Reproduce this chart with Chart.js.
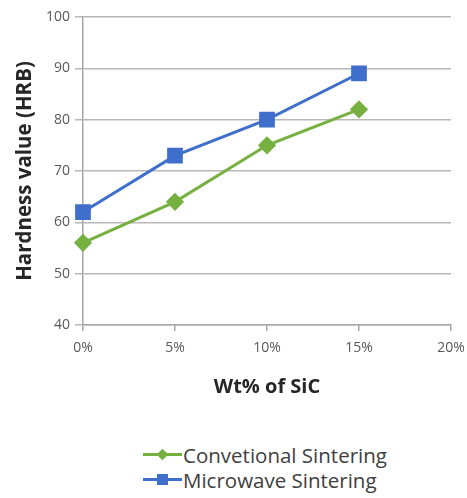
<!DOCTYPE html>
<html>
<head>
<meta charset="utf-8">
<script src="https://cdn.jsdelivr.net/npm/chart.js@4/dist/chart.umd.min.js"></script>
<style>
    body { margin: 0; background: #fff; font-family: "Open Sans", sans-serif; }
    #wrap { position: relative; width: 467px; height: 498px; }
    #legend { position: absolute; left: 143px; top: 442px; color: #404040; font-size: 20.5px; }
    .row { display: flex; align-items: center; height: 25px; }
    .key { position: relative; width: 39px; height: 3px; margin-right: 1px; }
    .key span { position: absolute; left: 14px; top: -4px; width: 11px; height: 11px; }
</style>
</head>
<body>
<div id="wrap">
    <canvas id="hardnessChart" width="467" height="410"></canvas>
    <div id="legend"></div>
</div>
<script>
/* ============================================================
   DATA
   ============================================================ */
const sicLabels = ["0%", "5%", "10%", "15%", "20%"];
const conventionalValues = [56, 64, 75, 82];
const microwaveValues = [62, 73, 80, 89];

const greenColor = "#76b041";
const blueColor = "#3f6fcb";

/* ============================================================
   CHART
   ============================================================ */
const ctx = document.getElementById("hardnessChart");

new Chart(ctx, {
    type: "line",
    data: {
        labels: sicLabels,
        datasets: [
            {
                label: "Convetional Sintering",
                data: conventionalValues,
                borderColor: greenColor,
                backgroundColor: greenColor,
                borderWidth: 3,
                pointStyle: "rectRot",
                pointRadius: 7,
                tension: 0
            },
            {
                label: "Microwave Sintering",
                data: microwaveValues,
                borderColor: blueColor,
                backgroundColor: blueColor,
                borderWidth: 3,
                pointStyle: "rect",
                pointRadius: 9,
                tension: 0
            }
        ]
    },
    options: {
        responsive: false,
        animation: false,
        layout: { padding: { top: 17, right: 16, left: 4, bottom: 0 } },
        plugins: {
            legend: { display: false },
            tooltip: { enabled: false }
        },
        scales: {
            x: {
                offset: false,
                grid: { drawOnChartArea: false, tickLength: 6, color: "#a6a6a6", lineWidth: 1.5 },
                border: { color: "#a6a6a6", width: 1.5 },
                ticks: { color: "#595959", font: { family: "Open Sans", size: 14 }, padding: 9, maxRotation: 0 },
                title: {
                    display: true,
                    text: "Wt% of SiC",
                    color: "#262626",
                    font: { family: "Open Sans", size: 20, weight: "bold" },
                    padding: { top: 0, bottom: 11 }
                },
                afterFit: scale => {
                    scale.height = 85;
                    scale.paddingRight = 0;
                }
            },
            y: {
                min: 40,
                max: 100,
                ticks: { stepSize: 10, color: "#595959", font: { family: "Open Sans", size: 14 }, padding: 5 },
                grid: { color: "#b8b8b8", tickLength: 8, lineWidth: 1.5 },
                border: { color: "#a6a6a6", width: 1.5 },
                title: {
                    display: true,
                    text: "Hardness value (HRB)",
                    color: "#262626",
                    font: { family: "Open Sans", size: 20.5, weight: "bold" },
                    padding: { top: 9, bottom: 0 }
                },
                afterFit: scale => { scale.width = 79; }
            }
        }
    }
});

/* ============================================================
   LEGEND (stacked, below the chart)
   ============================================================ */
const legendItems = [
    { text: "Convetional Sintering", color: greenColor, diamond: true },
    { text: "Microwave Sintering", color: blueColor, diamond: false }
];

const legendBox = document.getElementById("legend");
legendItems.forEach(item => {
    const row = document.createElement("div");
    row.className = "row";
    const key = document.createElement("div");
    key.className = "key";
    key.style.background = item.color;
    const marker = document.createElement("span");
    marker.style.background = item.color;
    if (item.diamond) marker.style.transform = "rotate(45deg) scale(0.75)";
    key.appendChild(marker);
    const label = document.createElement("div");
    label.textContent = item.text;
    row.appendChild(key);
    row.appendChild(label);
    legendBox.appendChild(row);
});
</script>
</body>
</html>
